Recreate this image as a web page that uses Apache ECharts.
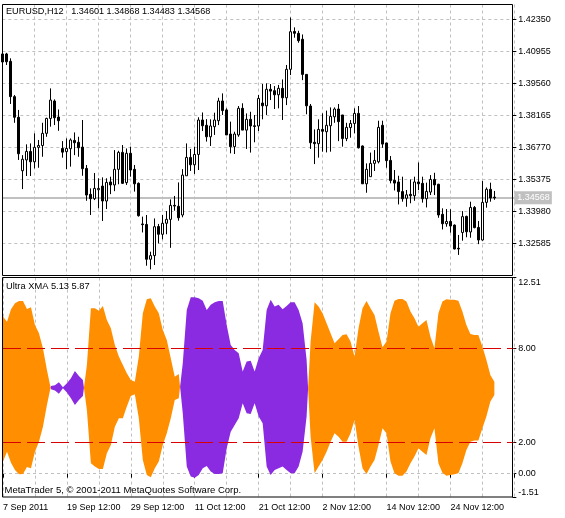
<!DOCTYPE html>
<html lang="en">
<head>
  <meta charset="UTF-8" />
  <title>EURUSD,H12 Ultra XMA</title>
  <script src="https://cdn.jsdelivr.net/npm/echarts@6/dist/echarts.min.js"></script>
  <style>
    html, body { margin: 0; padding: 0; background: #fff; }
    #chart { width: 565px; height: 518px; }
  </style>
</head>
<body>
  <div id="chart"></div>
  <script>
    // candles, oldest first
    var candleOpen = [1.4084,1.4084,1.4052,1.3898,1.3808,1.3575,1.3622,1.3659,1.3614,1.3677,1.3685,1.3738,1.3803,1.3879,1.3809,1.3672,1.3658,1.3671,1.3707,1.3699,1.3678,1.3585,1.3472,1.3453,1.3492,1.3508,1.3443,1.3526,1.3513,1.3581,1.3655,1.3523,1.3651,1.3581,1.3520,1.3343,1.3341,1.3189,1.3205,1.3332,1.3298,1.3346,1.3363,1.3424,1.3420,1.3382,1.3553,1.3633,1.3601,1.3646,1.3796,1.3773,1.3723,1.3767,1.3793,1.3879,1.3840,1.3735,1.3680,1.3731,1.3847,1.3752,1.3799,1.3771,1.3770,1.3870,1.3858,1.3930,1.3924,1.3906,1.3934,1.3893,1.4017,1.4182,1.4174,1.4148,1.3995,1.3857,1.3699,1.3693,1.3755,1.3745,1.3771,1.3810,1.3844,1.3818,1.3715,1.3763,1.3781,1.3825,1.3683,1.3518,1.3549,1.3607,1.3614,1.3773,1.3696,1.3620,1.3533,1.3526,1.3484,1.3455,1.3472,1.3466,1.3526,1.3520,1.3453,1.3482,1.3537,1.3516,1.3385,1.3344,1.3354,1.3338,1.3237,1.3306,1.3376,1.3308,1.3415,1.3328,1.3273,1.3437,1.3494,1.34601];
    var candleHigh = [1.4087,1.4089,1.4065,1.3905,1.3840,1.3643,1.3690,1.3694,1.3738,1.3709,1.3784,1.3806,1.3934,1.3886,1.3842,1.3704,1.3716,1.3716,1.3742,1.3723,1.3796,1.3600,1.3498,1.3565,1.3542,1.3546,1.3542,1.3549,1.3665,1.3662,1.3687,1.3672,1.3680,1.3600,1.3524,1.3375,1.3382,1.3222,1.3367,1.3343,1.3382,1.3399,1.3450,1.3465,1.3524,1.3582,1.3694,1.3670,1.3680,1.3808,1.3829,1.3800,1.3799,1.3828,1.3893,1.3912,1.3847,1.3789,1.3745,1.3857,1.3869,1.3825,1.3832,1.3818,1.3905,1.3953,1.3956,1.3953,1.3944,1.3949,1.3973,1.4036,1.4243,1.4200,1.4185,1.4169,1.3996,1.3866,1.3755,1.3799,1.3825,1.3837,1.3851,1.3851,1.3866,1.3818,1.3784,1.3796,1.3847,1.3857,1.3685,1.3607,1.3654,1.3665,1.3793,1.3793,1.3697,1.3639,1.3578,1.3553,1.3549,1.3491,1.3537,1.3549,1.3611,1.3549,1.3523,1.3556,1.3566,1.3518,1.3411,1.3408,1.3407,1.3341,1.3295,1.3399,1.3379,1.3440,1.3421,1.3356,1.3530,1.3502,1.3523,1.34868];
    var candleLow = [1.4049,1.4036,1.3866,1.3784,1.3622,1.3495,1.3552,1.3552,1.3585,1.3588,1.3636,1.3723,1.3767,1.3774,1.3749,1.3632,1.3582,1.3593,1.3643,1.3636,1.3553,1.3444,1.3382,1.3447,1.3411,1.3356,1.3408,1.3473,1.3486,1.3516,1.3517,1.3513,1.3549,1.3484,1.3375,1.3306,1.3161,1.3145,1.3164,1.3258,1.3276,1.3298,1.3239,1.3401,1.3357,1.3372,1.3553,1.3574,1.3561,1.3578,1.3748,1.3702,1.3683,1.3731,1.3774,1.3818,1.3731,1.3651,1.3648,1.3723,1.3752,1.3670,1.3654,1.3699,1.3748,1.3799,1.3818,1.3883,1.3844,1.3847,1.3796,1.3861,1.3992,1.4155,1.4133,1.3970,1.3821,1.3670,1.3604,1.3632,1.3658,1.3655,1.3658,1.3784,1.3704,1.3680,1.3704,1.3719,1.3738,1.3672,1.3518,1.3479,1.3549,1.3574,1.3607,1.3675,1.3588,1.3520,1.3489,1.3428,1.3440,1.3418,1.3433,1.3444,1.3491,1.3436,1.3415,1.3469,1.3469,1.3370,1.3319,1.3331,1.3305,1.3232,1.3208,1.3270,1.3285,1.3283,1.3324,1.3255,1.3270,1.3414,1.3440,1.34483];
    var candleClose = [1.4049,1.4050,1.3898,1.3808,1.3649,1.3625,1.3659,1.3614,1.3677,1.3685,1.3738,1.3803,1.3883,1.3806,1.3793,1.3656,1.3672,1.3709,1.3697,1.3675,1.3584,1.3469,1.3453,1.3498,1.3498,1.3443,1.3524,1.3513,1.3581,1.3655,1.3520,1.3651,1.3578,1.3518,1.3379,1.3340,1.3189,1.3205,1.3331,1.3298,1.3346,1.3363,1.3424,1.3421,1.3370,1.3556,1.3633,1.3601,1.3646,1.3796,1.3771,1.3723,1.3770,1.3796,1.3879,1.3837,1.3731,1.3680,1.3735,1.3847,1.3752,1.3799,1.3770,1.3768,1.3890,1.3858,1.3930,1.3922,1.3906,1.3934,1.3893,1.4017,1.4181,1.4174,1.4142,1.3995,1.3858,1.3697,1.3693,1.3755,1.3747,1.3773,1.3812,1.3844,1.3789,1.3715,1.3764,1.3781,1.3825,1.3675,1.3518,1.3581,1.3607,1.3620,1.3764,1.3691,1.3619,1.3532,1.3521,1.3484,1.3453,1.3470,1.3466,1.3526,1.3518,1.3453,1.3485,1.3537,1.3513,1.3382,1.3344,1.3354,1.3334,1.3234,1.3234,1.3375,1.3309,1.3415,1.3327,1.3273,1.3437,1.3494,1.3456,1.34568];

    // Ultra XMA band, upper and lower edge per candle
    var xmaTop = [10.02,9.70,10.49,10.87,11.02,11.02,10.51,10.62,9.49,8.96,8.00,6.62,5.60,5.64,5.83,5.51,5.77,6.09,6.55,6.23,5.98,6.94,10.55,10.55,10.40,10.70,9.81,9.28,8.21,7.47,6.94,6.40,5.98,5.87,7.47,10.23,11.13,11.19,10.66,10.23,9.17,8.53,7.36,6.19,6.36,7.04,10.45,11.26,11.26,11.19,11.04,10.45,10.77,10.94,11.02,11.02,9.49,8.21,7.89,7.68,6.51,7.15,7.21,6.51,7.36,7.89,10.45,11.09,10.66,10.77,10.49,10.70,10.94,10.94,10.45,9.60,7.26,8.43,10.94,10.66,10.23,9.60,8.96,8.32,8.57,8.85,8.89,8.43,7.47,9.28,10.55,11.02,10.55,10.13,9.06,8.06,8.43,10.23,11.04,11.15,11.15,10.98,10.34,9.91,9.38,9.60,9.81,8.74,8.00,10.23,10.98,11.13,11.09,11.09,11.04,10.34,9.49,8.91,8.85,8.85,8.11,7.26,6.30,5.87];
    var xmaBottom = [0.77,1.40,0.70,0.23,-0.04,-0.02,0.43,0.34,1.40,2.04,3.00,4.38,5.38,5.30,5.09,5.45,5.17,4.81,4.38,4.70,4.96,4.06,0.66,0.45,0.30,0.30,1.30,1.83,3.00,3.53,3.53,4.28,4.96,5.06,3.53,0.87,-0.09,-0.23,0.34,0.77,1.83,2.57,3.53,4.70,4.81,3.85,0.45,-0.19,-0.26,-0.09,0.34,0.49,0.13,-0.02,-0.02,0.02,1.62,2.68,3.11,3.53,4.49,3.85,3.81,4.49,3.64,3.21,0.45,-0.09,0.23,0.34,0.45,0.23,0.02,0.02,0.45,1.40,3.64,2.36,0.02,0.45,0.87,1.40,2.04,2.57,2.36,2.04,2.04,2.57,3.43,1.72,0.34,-0.02,0.45,0.87,1.83,2.89,2.57,0.77,0.02,-0.13,-0.13,0.13,0.66,1.09,1.62,1.40,1.19,2.26,2.89,0.66,0.06,-0.13,-0.09,-0.04,0.02,0.66,1.51,2.04,2.11,2.11,2.89,3.64,4.60,5.02];
    // first and last candle of each run of one colour
    var xmaRuns = [[0, 11, "orange"], [12, 20, "purple"], [21, 44, "orange"], [45, 76, "purple"], [77, 123, "orange"]];

    var xTickLabels = ["7 Sep 2011", "19 Sep 12:00", "29 Sep 12:00", "11 Oct 12:00", "21 Oct 12:00", "2 Nov 12:00", "14 Nov 12:00", "24 Nov 12:00"];
    var priceTicks = [1.32585, 1.33980, 1.35375, 1.36770, 1.38165, 1.39560, 1.40955, 1.42350];
    var xmaTicks = [-1.51, 0, 2, 8, 12.51];
    var lastPrice = 1.34568;

    var COLORS = { orange: "#ff8f00", purple: "#8a2be2" };
    var GRID = "#c0c0c0";
    var FONT = "Liberation Sans", FS = 9;

    var BARS = 129; // room on the right past the last candle
    var categories = [];
    for (var i = 0; i < BARS; i++) {
      categories.push(xTickLabels[i / 16] || "");
    }
    var candles = candleOpen.map(function(o, i) {
      return [o, candleClose[i], candleLow[i], candleHigh[i]];
    });

    // where the two xma lines cross between candle k and k + 1
    function crossing(k) {
      var w0 = xmaTop[k] - xmaBottom[k], w1 = xmaTop[k + 1] - xmaBottom[k + 1];
      var t = w0 / (w0 + w1);
      var m0 = (xmaTop[k] + xmaBottom[k]) / 2, m1 = (xmaTop[k + 1] + xmaBottom[k + 1]) / 2;
      return [k + t, m0 + (m1 - m0) * t];
    }

    // one polygon per run of one colour, the fill between the two lines
    function renderBand(params, api) {
      var run = xmaRuns[params.dataIndex];
      var a = api.coord([run[0], xmaTop[run[0]]]), b = api.coord([run[0] + 1, xmaTop[run[0]]]);
      var step = b[0] - a[0];
      function pt(x, v) {
        var c = api.coord([Math.floor(x), v]);
        c[0] += (x - Math.floor(x)) * step;
        return c;
      }
      var top = [], bottom = [];
      for (var k = run[0]; k <= run[1]; k++) {
        top.push(pt(k, xmaTop[k]));
        bottom.unshift(pt(k, xmaBottom[k]));
      }
      var points = top;
      if (run[1] < xmaTop.length - 1) {
        var c = crossing(run[1]);
        points.push(pt(c[0], c[1]));
      }
      points = points.concat(bottom);
      if (run[0] > 0) {
        var s = crossing(run[0] - 1);
        points.push(pt(s[0], s[1]));
      }
      return { type: "polygon", shape: { points: points }, style: { fill: COLORS[run[2]] } };
    }

    function label(x, y, text, size) {
      return { type: "text", x: x, y: y, z: 100, silent: true,
        style: { text: text, fontFamily: FONT, fontSize: size || FS, fill: "#000", textVerticalAlign: "middle" } };
    }
    function frame(x, y, w, h) {
      return { type: "rect", z: 90, silent: true, shape: { x: x, y: y, width: w, height: h }, style: { fill: "none", stroke: "#000", lineWidth: 1 } };
    }
    var everyEight = function(i) { return i % 8 === 0; };
    var everySixteen = function(i) { return i % 16 === 0; };
    var dashGrid = { show: true, interval: everyEight, lineStyle: { color: GRID, type: [3, 3], width: 1 } };

    var chart = echarts.init(document.getElementById("chart"), null, { renderer: "canvas" });
    chart.setOption({
      animation: false,
      backgroundColor: "#fff",
      textStyle: { fontFamily: FONT, fontSize: FS },
      grid: [
        { left: 2.33, top: 4.5, width: 512, height: 271 },
        { left: 2.33, top: 277.6, width: 512, height: 219.7 }
      ],
      xAxis: [
        { type: "category", gridIndex: 0, data: categories, boundaryGap: false,
          axisLine: { show: false }, axisTick: { show: false }, axisLabel: { show: false }, splitLine: dashGrid },
        { type: "category", gridIndex: 1, data: categories, boundaryGap: false,
          axisLine: { show: false },
          axisTick: { show: true, interval: everySixteen, length: 4, lineStyle: { color: "#000" } },
          axisLabel: { show: true, interval: everySixteen, align: "left", margin: 6, color: "#000", fontFamily: FONT, fontSize: FS, hideOverlap: false },
          splitLine: dashGrid }
      ],
      yAxis: [
        { type: "value", gridIndex: 0, position: "right", offset: -2, min: 1.31183, max: 1.42996,
          axisLine: { show: false },
          axisTick: { show: true, length: 4, customValues: priceTicks, lineStyle: { color: "#000" } },
          axisLabel: { show: true, customValues: priceTicks, margin: 6, color: "#000", fontFamily: FONT, fontSize: FS,
            formatter: function(v) { return v.toFixed(5); } },
          splitLine: { show: true, customValues: priceTicks, lineStyle: { color: GRID, type: [3, 3], width: 1 } } },
        { type: "value", gridIndex: 1, position: "right", offset: -2, min: -1.51, max: 12.51,
          axisLine: { show: false },
          axisTick: { show: true, length: 4, customValues: xmaTicks, lineStyle: { color: "#000" } },
          axisLabel: { show: true, customValues: xmaTicks, margin: 6, color: "#000", fontFamily: FONT, fontSize: FS,
            verticalAlignMinLabel: "bottom", verticalAlignMaxLabel: "top",
            formatter: function(v) { return v.toFixed(2); } },
          splitLine: { show: false } }
      ],
      series: [
        { type: "line", xAxisIndex: 0, yAxisIndex: 0, data: [], z: 1, silent: true, symbol: "none",
          markLine: { silent: true, symbol: "none", z: 1, animation: false, precision: 5,
            lineStyle: { color: "#c0c0c0", type: "solid", width: 2 },
            label: { show: true, position: "end", distance: 0, formatter: lastPrice.toFixed(5), color: "#fff",
              backgroundColor: "#c0c0c0", padding: [3, 2, 1, 3], fontFamily: FONT, fontSize: FS },
            data: [{ yAxis: lastPrice }] } },
        { type: "candlestick", name: "EURUSD,H12", xAxisIndex: 0, yAxisIndex: 0, data: candles, z: 5, barWidth: 2, silent: true,
          itemStyle: { color: "#fff", color0: "#000", borderColor: "#000", borderColor0: "#000", borderWidth: 1 } },
        { type: "line", xAxisIndex: 1, yAxisIndex: 1, data: [], z: 1, silent: true, symbol: "none",
          markLine: { silent: true, symbol: "none", z: 1, animation: false, label: { show: false },
            lineStyle: { color: GRID, type: [3, 3], width: 1 }, data: [{ yAxis: 0 }] } },
        { type: "custom", name: "Ultra XMA", xAxisIndex: 1, yAxisIndex: 1, data: xmaRuns.map(function(r) { return [r[0], 0]; }), z: 5, silent: true, clip: true,
          encode: { x: 0, y: 1 }, renderItem: renderBand },
        { type: "line", xAxisIndex: 1, yAxisIndex: 1, data: [], z: 6, silent: true, symbol: "none",
          markLine: { silent: true, symbol: "none", z: 6, animation: false, label: { show: false },
            lineStyle: { color: "#d80000", type: [18, 6], width: 1.2 }, data: [{ yAxis: 8 }, { yAxis: 2 }] } }
      ],
      graphic: [
        frame(2.5, 4.5, 510, 271),
        frame(2.5, 277.5, 510, 219.5),
        label(6, 11.5, "EURUSD,H12   1.34601 1.34868 1.34483 1.34568", 9.1),
        label(6, 286.5, "Ultra XMA 5.13 5.87", 9.3),
        label(4.5, 490, "MetaTrader 5, © 2001-2011 MetaQuotes Software Corp.", 9.5)
      ]
    });
  </script>
</body>
</html>
